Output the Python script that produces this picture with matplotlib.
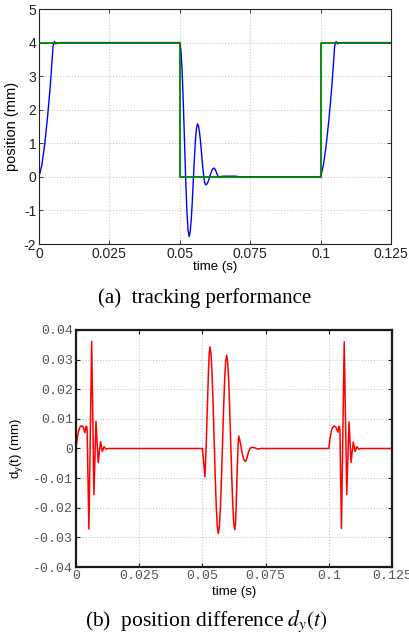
import matplotlib
matplotlib.use("Agg")
import matplotlib.pyplot as plt

plt.rcParams['axes.unicode_minus'] = False
plt.rcParams['mathtext.fontset'] = 'stix'

# ---------------- data: (a) tracking performance ----------------
ref_t = [0.0, 0.05, 0.05, 0.1, 0.1, 0.125]
ref_pos = [4, 4, 0, 0, 4, 4]

pos_t = [0.0, 0.0010, 0.0020, 0.0030, 0.0040, 0.0045, 0.0050, 0.0055, 0.0060, 0.0065, 0.0070, 0.0080,
         0.0500, 0.0504, 0.05083, 0.05124, 0.05165, 0.05206, 0.05248, 0.05289, 0.0533,
         0.05368, 0.05405, 0.05443, 0.0548, 0.05518, 0.05555, 0.05593, 0.0563,
         0.05666, 0.05703, 0.05739, 0.05775, 0.05811, 0.05848, 0.05884, 0.0592,
         0.05956, 0.05993, 0.06029, 0.06065, 0.06101, 0.06138, 0.06174, 0.0621,
         0.0626, 0.0630, 0.0635, 0.0640, 0.0645, 0.0655, 0.0700, 0.0710,
         0.1000, 0.1010, 0.1020, 0.1030, 0.1040, 0.1045, 0.1050, 0.1055, 0.1060, 0.1065, 0.1070, 0.1080,
         0.1250]
pos_y = [0.0, 0.35, 0.95, 1.75, 2.70, 3.30, 3.90, 4.03, 3.96, 4.00, 3.98, 4.00,
         4.00, 3.78, 3.15, 2.22, 1.11, 0.00, -0.93, -1.56, -1.78,
         -1.65, -1.29, -0.74, -0.10, 0.54, 1.09, 1.45, 1.58,
         1.51, 1.31, 1.02, 0.67, 0.32, 0.03, -0.17, -0.24,
         -0.22, -0.17, -0.09, 0.01, 0.11, 0.19, 0.24, 0.26,
         0.22, 0.13, 0.03, -0.01, 0.01, 0.02, 0.02, 0.00,
         0.00, 0.35, 0.95, 1.75, 2.70, 3.30, 3.90, 4.03, 3.96, 4.00, 3.98, 4.00,
         4.00]

# ---------------- data: (b) position difference ----------------
diff_t = [0.0, 0.0005, 0.0010, 0.0015, 0.0022, 0.0028, 0.0035, 0.0039, 0.0042, 0.0044,
          0.0051, 0.0062, 0.0071, 0.0079, 0.0088, 0.0097, 0.0104, 0.0111, 0.0119, 0.0128,
          0.0500, 0.0510, 0.0515, 0.0520, 0.0524, 0.0527, 0.0530,
          0.05341, 0.05383, 0.05424, 0.05465, 0.05506, 0.05548, 0.05589, 0.0563,
          0.05671, 0.05713, 0.05754, 0.05795, 0.05836, 0.05878, 0.05919, 0.0596,
          0.0600, 0.0604, 0.0608, 0.0612, 0.0616, 0.0620, 0.0624, 0.0628,
          0.0631, 0.0634, 0.0637, 0.0641, 0.0644,
          0.0650, 0.0656, 0.0662, 0.0667, 0.0672, 0.0677, 0.0683, 0.0690, 0.0697, 0.0705,
          0.0713, 0.0721, 0.0730,
          0.1000, 0.1005, 0.1010, 0.1015, 0.1022, 0.1028, 0.1036, 0.1039, 0.1042, 0.1044,
          0.1050, 0.1061, 0.1071, 0.1080, 0.1088, 0.1097, 0.1104, 0.1111, 0.1119, 0.1128,
          0.1250]
diff_y = [0.0, 0.0035, 0.0058, 0.0071, 0.0077, 0.0073, 0.0053, 0.0072, 0.0075, 0.0062,
          -0.0272, 0.0361, -0.0156, 0.0092, -0.0048, 0.0023, -0.0010, 0.0006, -0.0002, 0.0,
          0.0, -0.0096, 0.0010, 0.0150, 0.0260, 0.0320, 0.0343,
          0.0319, 0.0251, 0.0149, 0.0028, -0.0093, -0.0195, -0.0263, -0.0287,
          -0.0264, -0.0199, -0.0101, 0.0014, 0.0129, 0.0227, 0.0292, 0.0315,
          0.0293, 0.0229, 0.0133, 0.0021, -0.0092, -0.0188, -0.0252, -0.0274,
          -0.0255, -0.0180, -0.0090, 0.0010, 0.0042,
          0.0020, -0.0010, -0.0032, -0.0042, -0.0043, -0.0030, -0.0010, 0.0002, 0.0004, 0.0003,
          0.0, -0.0002, 0.0,
          0.0, 0.0035, 0.0058, 0.0071, 0.0076, 0.0072, 0.0055, 0.0073, 0.0075, 0.0062,
          -0.0270, 0.0360, -0.0155, 0.0090, -0.0047, 0.0022, -0.0010, 0.0006, -0.0002, 0.0,
          0.0]

xticks = [0, 0.025, 0.05, 0.075, 0.1, 0.125]
xtick_labels = ["0", "0.025", "0.05", "0.075", "0.1", "0.125"]
yticks_a = [-2, -1, 0, 1, 2, 3, 4, 5]
yticks_b = [-0.04, -0.03, -0.02, -0.01, 0, 0.01, 0.02, 0.03, 0.04]
ytick_labels_b = ["-0.04", "-0.03", "-0.02", "-0.01", "0", "0.01", "0.02", "0.03", "0.04"]

W, H = 410, 637
fig = plt.figure(figsize=(W / 100, H / 100), dpi=100)

def frac(l, t, r, b):
    return [l / W, 1 - b / H, (r - l) / W, (b - t) / H]

sans = ['Liberation Sans', 'DejaVu Sans']
mono = ['Liberation Mono', 'DejaVu Sans Mono']
serif = ['Liberation Serif', 'DejaVu Serif']
grid_kw = dict(color='#c8c8c8', linestyle=':', linewidth=0.8)

# ---------- (a) ----------
ax1 = fig.add_axes(frac(39, 9, 391, 244))
ax1.plot(pos_t, pos_y, color='#0000ff', linewidth=1.0, zorder=2)
ax1.plot(ref_t, ref_pos, color='#008000', linewidth=1.3, zorder=3)
ax1.set_xlim(0, 0.125)
ax1.set_ylim(-2, 5)
ax1.set_xticks(xticks)
ax1.set_xticklabels(xtick_labels)
ax1.set_yticks(yticks_a)
ax1.grid(True, **grid_kw)
ax1.tick_params(direction='in', top=True, right=True, length=3, width=0.6,
                labelsize=10, pad=2, colors='#222222')
for lab in ax1.get_xticklabels() + ax1.get_yticklabels():
    lab.set_family(sans)
for s in ax1.spines.values():
    s.set_linewidth(0.8)
    s.set_color('#222222')
ax1.set_xlabel('time (s)', fontsize=9.5, family=sans)
ax1.xaxis.set_label_coords(0.5, -0.072)
ax1.set_ylabel('position (mm)', fontsize=10.5, family=sans)
ax1.yaxis.set_label_coords(-0.058, 0.5)

fig.text(205 / W, 1 - 298 / H, '(a)  tracking performance', ha='center', va='center',
         fontsize=15, family=serif)

# ---------- (b) ----------
ax2 = fig.add_axes(frac(76, 330, 392, 567))
ax2.plot(diff_t, diff_y, color='#ff0000', linewidth=1.1)
ax2.set_xlim(0, 0.125)
ax2.set_ylim(-0.04, 0.04)
ax2.set_xticks(xticks)
ax2.set_xticklabels(xtick_labels)
ax2.set_yticks(yticks_b)
ax2.set_yticklabels(ytick_labels_b)
ax2.grid(True, **grid_kw)
ax2.tick_params(direction='in', top=True, right=True, length=3, width=0.8,
                labelsize=9.5, pad=2, colors='#222222', labelcolor='#555555')
for lab in ax2.get_xticklabels() + ax2.get_yticklabels():
    lab.set_family(mono)
for s in ax2.spines.values():
    s.set_linewidth(1.6)
    s.set_color('#1a1a1a')
ax2.set_xlabel('time (s)', fontsize=9.5, family=sans)
ax2.xaxis.set_label_coords(0.5, -0.08)
ax2.set_ylabel(r'd$_\mathregular{y}$(t) (mm)', fontsize=9.5, family=sans,
               math_fontfamily='dejavusans')
ax2.yaxis.set_label_coords(-0.16, 0.5)

fig.text(206 / W, 1 - 621 / H, r'(b)  position difference $d_y(t)$', ha='center', va='center',
         fontsize=15.5, family=serif)

fig.savefig('out.png', dpi=100)
